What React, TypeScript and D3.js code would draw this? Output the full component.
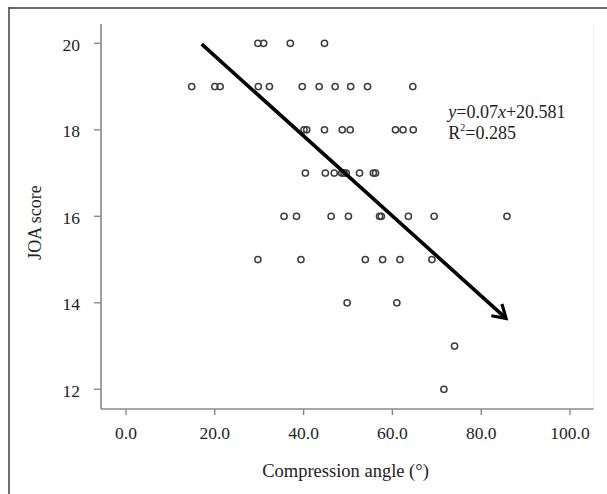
import React from "react";
import * as d3 from "d3";

const angles = [
  29.7, 31.0, 37.0, 44.7,
  14.8, 20.0, 21.2, 29.8, 32.3, 39.7, 43.5, 47.1, 50.6, 54.4, 64.6,
  40.1, 40.7, 44.7, 48.7, 50.5, 60.7, 62.4, 64.7,
  40.4, 44.9, 46.9, 48.6, 49.1, 49.6, 52.6, 55.7, 56.2,
  35.6, 38.4, 46.2, 50.1, 57.1, 57.5, 63.6, 69.4, 85.8,
  29.7, 39.4, 53.9, 57.8, 61.7, 68.9,
  49.8, 61.0,
  74.0,
  71.6,
];
const joaScores = [
  20, 20, 20, 20,
  19, 19, 19, 19, 19, 19, 19, 19, 19, 19, 19,
  18, 18, 18, 18, 18, 18, 18, 18,
  17, 17, 17, 17, 17, 17, 17, 17, 17,
  16, 16, 16, 16, 16, 16, 16, 16, 16,
  15, 15, 15, 15, 15, 15,
  14, 14,
  13,
  12,
];
const xTicks = [0, 20, 40, 60, 80, 100];
const yTicks = [12, 14, 16, 18, 20];
const arrowFrom = [17.05, 19.98];
const arrowTo = [85.6, 13.64];
const equationText = ["y", "=0.07", "x", "+20.581"];
const r2Text = ["R", "2", "=0.285"];
const xTitle = "Compression angle (°)";
const yTitle = "JOA score";

const W = 607;
const H = 494;
const FONT = "'Liberation Serif', 'Times New Roman', serif";

export default function App() {
  const x = d3.scaleLinear().domain([0, 100]).range([126, 570]);
  const y = d3.scaleLinear().domain([12, 20]).range([389.3, 43.3]);
  const plotLeft = 101;
  const plotRight = 593.5;
  const plotTop = 24;
  const plotBottom = 409;
  const axisColor = "#8a8a8a";

  const ax1 = x(arrowFrom[0]);
  const ay1 = y(arrowFrom[1]);
  const ax2 = x(arrowTo[0]);
  const ay2 = y(arrowTo[1]);
  const ang = Math.atan2(ay2 - ay1, ax2 - ax1);
  const headLen = 15;
  const spread = (32 * Math.PI) / 180;
  const b1 = [ax2 - headLen * Math.cos(ang - spread), ay2 - headLen * Math.sin(ang - spread)];
  const b2 = [ax2 - headLen * Math.cos(ang + spread), ay2 - headLen * Math.sin(ang + spread)];
  const arrowPath = d3.path();
  arrowPath.moveTo(ax1, ay1);
  arrowPath.lineTo(ax2 - 1.5 * Math.cos(ang), ay2 - 1.5 * Math.sin(ang));
  const headPath = d3.path();
  headPath.moveTo(b1[0], b1[1]);
  headPath.lineTo(ax2, ay2);
  headPath.lineTo(b2[0], b2[1]);

  return (
    <svg
      width={W}
      height={H}
      style={{ position: "fixed", left: 0, top: 0, background: "#fff" }}
      fontFamily={FONT}
    >
      <rect x={0} y={0} width={W} height={H} fill="#fff" />
      {/* outer frame */}
      <line x1={9} y1={8} x2={W} y2={8} stroke="#6a6a6a" strokeWidth={2} />
      <line x1={9} y1={7} x2={9} y2={H} stroke="#222" strokeWidth={1.3} />
      {/* faint right plot edge */}
      <line x1={plotRight} y1={plotTop} x2={plotRight} y2={plotBottom} stroke="#eeeeee" strokeWidth={1} />
      {/* axes */}
      <line x1={plotLeft} y1={plotTop} x2={plotLeft} y2={plotBottom} stroke={axisColor} strokeWidth={1.6} />
      <line x1={plotLeft} y1={plotBottom} x2={plotRight} y2={plotBottom} stroke={axisColor} strokeWidth={1.6} />
      {yTicks.map((t) => (
        <g key={"y" + t}>
          <line x1={plotLeft - 7} x2={plotLeft} y1={y(t)} y2={y(t)} stroke={axisColor} strokeWidth={1.4} />
          <text x={80} y={y(t) + 7.2} textAnchor="end" fontSize={17.5} fill="#222">
            {t}
          </text>
        </g>
      ))}
      {xTicks.map((t) => (
        <g key={"x" + t}>
          <line x1={x(t)} x2={x(t)} y1={plotBottom} y2={plotBottom + 6} stroke={axisColor} strokeWidth={1.4} />
          <text x={x(t)} y={439} textAnchor="middle" fontSize={17.5} fill="#222">
            {t.toFixed(1)}
          </text>
        </g>
      ))}
      {/* points */}
      {angles.map((a, i) => (
        <circle
          key={"p" + i}
          cx={x(a)}
          cy={y(joaScores[i])}
          r={3.1}
          fill="none"
          stroke="#3c3c3c"
          strokeWidth={1.5}
        />
      ))}
      {/* arrow */}
      <path d={arrowPath.toString()} stroke="#000" strokeWidth={3.6} fill="none" />
      <path d={headPath.toString()} stroke="#000" strokeWidth={3.2} fill="none" strokeLinejoin="miter" />
      {/* equation */}
      <text x={448.3} y={118.3} fontSize={18} fill="#222">
        <tspan fontStyle="italic">{equationText[0]}</tspan>
        <tspan>{equationText[1]}</tspan>
        <tspan fontStyle="italic">{equationText[2]}</tspan>
        <tspan>{equationText[3]}</tspan>
      </text>
      <text x={448.3} y={139.3} fontSize={18} fill="#222">
        <tspan>{r2Text[0]}</tspan>
        <tspan fontSize={10} dy={-8}>{r2Text[1]}</tspan>
        <tspan dy={8}>{r2Text[2]}</tspan>
      </text>
      {/* axis titles */}
      <text x={345.5} y={477.3} textAnchor="middle" fontSize={18.5} fill="#222">
        {xTitle}
      </text>
      <text
        transform="translate(41,222.5) rotate(-90)"
        textAnchor="middle"
        fontSize={18}
        fill="#222"
      >
        {yTitle}
      </text>
    </svg>
  );
}
